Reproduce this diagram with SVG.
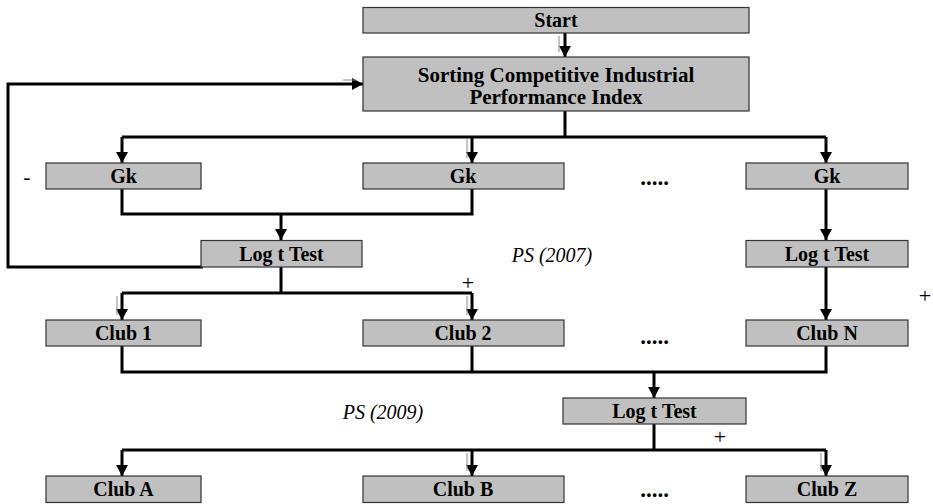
<svg xmlns="http://www.w3.org/2000/svg" width="933" height="504" viewBox="0 0 933 504">
<style>
.box{fill:#c0c0c0;stroke:#333;stroke-width:1.2}
.lbl{font-family:"Liberation Serif","Times New Roman",serif;font-weight:bold;font-size:20px;fill:#000;text-anchor:middle}
.it{font-family:"Liberation Serif","Times New Roman",serif;font-style:italic;font-size:20px;fill:#000;text-anchor:middle}
.sg{font-family:"Liberation Serif","Times New Roman",serif;font-size:22px;fill:#000;text-anchor:middle}
.dots{font-family:"Liberation Serif","Times New Roman",serif;font-weight:bold;font-size:23px;fill:#000;text-anchor:middle}
.c{fill:none;stroke:#000;stroke-width:3}
.ca{fill:none;stroke:#000;stroke-width:3;marker-end:url(#ah)}
.th{fill:none;stroke:#888;stroke-width:1}
</style>
<defs>
<marker id="ah" markerUnits="userSpaceOnUse" markerWidth="12" markerHeight="12" refX="11" refY="6" orient="auto">
<path d="M0,0 L11,6 L0,12 z" fill="#000"/>
</marker>
</defs>
<rect width="933" height="504" fill="#fff"/>
<g id="connectors">
<path class="ca" d="M565,33 V57"/>
<path class="th" d="M559,36 V52"/>
<path class="c" d="M565,111 V137"/>
<path class="c" d="M122,137 H826"/>
<path class="ca" d="M122,137 V163"/>
<path class="ca" d="M472,137 V163"/>
<path class="th" d="M467,139 V158"/>
<path class="ca" d="M826,137 V163"/>
<path class="c" d="M122,189 V214 H472 V189"/>
<path class="ca" d="M281,214 V240"/>
<path class="ca" d="M203,267 H8 V84 H363"/>
<path class="th" d="M343,80 H356"/>
<path class="c" d="M281,267 V293"/>
<path class="c" d="M122,293 H472"/>
<path class="ca" d="M122,293 V320"/>
<path class="th" d="M117,296 V315"/>
<path class="ca" d="M472,293 V320"/>
<path class="th" d="M467,296 V315"/>
<path class="ca" d="M826,189 V240"/>
<path class="ca" d="M826,267 V320"/>
<path class="c" d="M122,346 V372 H826 V346"/>
<path class="c" d="M472,346 V372"/>
<path class="ca" d="M654,372 V398"/>
<path class="c" d="M654,424 V450"/>
<path class="c" d="M122,450 H826"/>
<path class="ca" d="M122,450 V476"/>
<path class="ca" d="M472,450 V476"/>
<path class="th" d="M467,453 V471"/>
<path class="ca" d="M826,450 V476"/>
<path class="th" d="M821,453 V471"/>
</g>
<g id="start"><rect class="box" x="363" y="7.5" width="386" height="25.5"/><text class="lbl" x="556" y="27">Start</text></g>
<g id="sorting"><rect class="box" x="363" y="57" width="386" height="54"/><text class="lbl" x="556" y="82" style="font-size:21px">Sorting Competitive Industrial</text><text class="lbl" x="556" y="104" style="font-size:21px">Performance Index</text></g>
<g id="gk1"><rect class="box" x="46" y="163" width="155" height="26"/><text class="lbl" x="123.5" y="183">Gk</text></g>
<g id="gk2"><rect class="box" x="363" y="163" width="201" height="26"/><text class="lbl" x="463" y="183">Gk</text></g>
<g id="gk3"><rect class="box" x="746" y="163" width="162" height="26"/><text class="lbl" x="827" y="183">Gk</text></g>
<g id="logt1"><rect class="box" x="201" y="240.5" width="161" height="26.5"/><text class="lbl" x="281.5" y="261">Log t Test</text></g>
<g id="logt2"><rect class="box" x="746" y="240.5" width="162" height="26.5"/><text class="lbl" x="827" y="261">Log t Test</text></g>
<g id="club1"><rect class="box" x="46" y="320" width="155" height="26"/><text class="lbl" x="123.5" y="340">Club 1</text></g>
<g id="club2"><rect class="box" x="363" y="320" width="201" height="26"/><text class="lbl" x="463" y="340">Club 2</text></g>
<g id="clubN"><rect class="box" x="746" y="320" width="162" height="26"/><text class="lbl" x="827" y="340">Club N</text></g>
<g id="logt3"><rect class="box" x="563" y="398" width="183" height="26"/><text class="lbl" x="654.5" y="418">Log t Test</text></g>
<g id="clubA"><rect class="box" x="46" y="476" width="155" height="26.5"/><text class="lbl" x="123.5" y="496">Club A</text></g>
<g id="clubB"><rect class="box" x="363" y="476" width="201" height="26.5"/><text class="lbl" x="463" y="496">Club B</text></g>
<g id="clubZ"><rect class="box" x="746" y="476" width="162" height="26.5"/><text class="lbl" x="827" y="496">Club Z</text></g>
<g id="labels">
<text class="dots" x="654.5" y="185">.....</text>
<text class="dots" x="654.5" y="344">.....</text>
<text class="dots" x="654.5" y="497">.....</text>
<text class="it" x="552" y="262">PS (2007)</text>
<text class="it" x="383" y="419">PS (2009)</text>
<text class="sg" x="27" y="184">-</text>
<text class="sg" x="468" y="290">+</text>
<text class="sg" x="925" y="303">+</text>
<text class="sg" x="720" y="444">+</text>
</g>
</svg>
